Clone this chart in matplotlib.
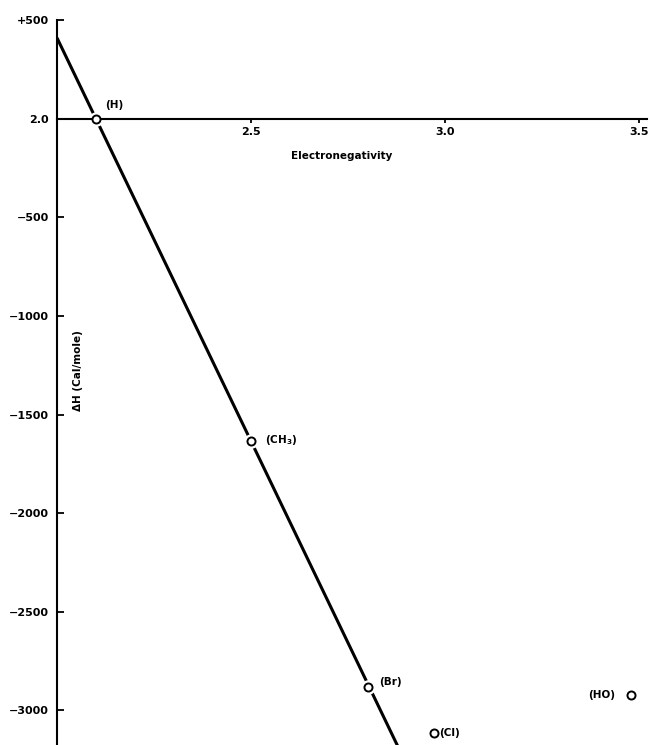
import matplotlib
matplotlib.use("Agg")
import matplotlib.pyplot as plt

# valeurs
electroneg = [2.1, 2.5, 2.8, 2.97, 3.48]
delta_h = [0, -1635, -2883, -3112, -2919]
point_labels = ["(H)", "(CH$_3$)", "(Br)", "(Cl)", "(HO)"]

# droite tracée à travers H, CH3, Br (extrémités lues)
line_x = [2.0, 2.88]
line_y = [410, -3190]

y_ticks = [500, 0, -500, -1000, -1500, -2000, -2500, -3000]
y_tick_labels = ["+500", "2.0", "\u2212500", "\u22121000", "\u22121500",
                 "\u22122000", "\u22122500", "\u22123000"]
x_ticks = [2.5, 3.0, 3.5]
x_tick_labels = ["2.5", "3.0", "3.5"]

# décalages des étiquettes (points), alignement horizontal
label_offsets = [(13, 10), (10, 1), (8, 4), (4, 0), (-12, 0)]
label_ha = ["center", "left", "left", "left", "right"]

plt.rcParams["font.family"] = "DejaVu Sans"
plt.rcParams["font.weight"] = "bold"

fig = plt.figure(figsize=(6.5, 7.45), dpi=100)
ax = fig.add_axes([0.0877, 0.0, 0.9077, 0.973])

ax.plot(line_x, line_y, color="black", linewidth=2.2, solid_capstyle="butt", zorder=1)

# halo blanc pour couper la droite autour des cercles
ax.plot(electroneg, delta_h, linestyle="none", marker="o", markersize=9.5,
        markerfacecolor="white", markeredgecolor="white", zorder=2)
ax.plot(electroneg, delta_h, linestyle="none", marker="o", markersize=5.8,
        markerfacecolor="white", markeredgecolor="black", markeredgewidth=1.4, zorder=3)

for x, y, lab, off, ha in zip(electroneg, delta_h, point_labels, label_offsets, label_ha):
    ax.annotate(lab, (x, y), xytext=off, textcoords="offset points",
                ha=ha, va="center", fontsize=7.5, fontweight="bold")

ax.set_xlim(2.0, 3.52)
ax.set_ylim(-3175, 500)

ax.spines["top"].set_visible(False)
ax.spines["right"].set_visible(False)
ax.spines["bottom"].set_position(("data", 0))
ax.spines["bottom"].set_linewidth(1.5)
ax.spines["left"].set_linewidth(1.5)

ax.set_yticks(y_ticks)
ax.set_yticklabels(y_tick_labels)
ax.set_xticks(x_ticks)
ax.set_xticklabels(x_tick_labels)
ax.tick_params(axis="y", direction="in", length=5, width=1.3, pad=6, labelsize=8)
ax.tick_params(axis="x", direction="out", length=3, width=1.3, pad=3, labelsize=8)
for t in ax.get_xticklabels() + ax.get_yticklabels():
    t.set_fontweight("bold")

ax.set_ylabel("\u0394H (Cal/mole)", fontsize=7.5, fontweight="bold")
ax.yaxis.set_label_coords(0.044, 0.517)
ax.text(0.483, 0.812, "Electronegativity", transform=ax.transAxes,
        ha="center", va="center", fontsize=7.5, fontweight="bold")

fig.savefig("out.png", dpi=100)
